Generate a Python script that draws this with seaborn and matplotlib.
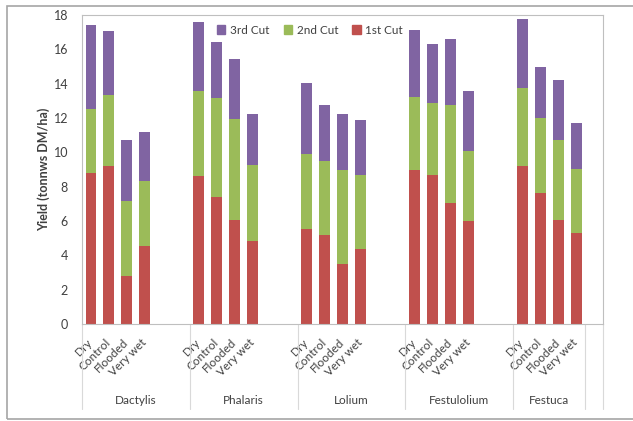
import pandas as pd
import matplotlib.pyplot as plt
import seaborn as sns
from matplotlib.patches import Rectangle
from matplotlib.lines import Line2D

# Data (t DM/ha per cut)
species = ["Dactylis", "Phalaris", "Lolium", "Festulolium", "Festuca"]
treatments = ["Dry", "Control", "Flooded", "Very wet"]
cut1 = [8.8, 9.2, 2.8, 4.55,
        8.6, 7.4, 6.05, 4.85,
        5.55, 5.2, 3.5, 4.35,
        9.0, 8.7, 7.05, 6.0,
        9.2, 7.65, 6.05, 5.3]
cut2 = [3.75, 4.15, 4.35, 3.8,
        5.0, 5.75, 5.9, 4.4,
        4.35, 4.3, 5.45, 4.35,
        4.25, 4.15, 5.7, 4.1,
        4.55, 4.35, 4.65, 3.75]
cut3 = [4.85, 3.7, 3.55, 2.85,
        4.0, 3.25, 3.5, 3.0,
        4.15, 3.25, 3.3, 3.2,
        3.85, 3.45, 3.85, 3.45,
        4.0, 3.0, 3.5, 2.65]

colors = {"3rd Cut": "#8064A2", "2nd Cut": "#9BBB59", "1st Cut": "#C0504D"}
text_color = "#404040"

sns.set_theme(style="white")
plt.rcParams['font.family'] = ['Lato', 'DejaVu Sans']

# Excel-like category layout: 4 bars per species, 2 empty slots between groups
order = []
keys = []
for i, sp in enumerate(species):
    for t in treatments:
        order.append(f"{sp}|{t}")
        keys.append(f"{sp}|{t}")
    if i < len(species) - 1:
        order += [f"gap{i}a", f"gap{i}b"]
    else:
        order += ["gap_end"]

df = pd.DataFrame({"key": keys, "c1": cut1, "c2": cut2, "c3": cut3})
df["top2"] = df["c1"] + df["c2"]
df["top3"] = df["top2"] + df["c3"]

fig = plt.figure(figsize=(6.33, 4.21), dpi=100)
ax = fig.add_axes([82 / 633, 1 - 324 / 421, 521 / 633, 309 / 421])

# stacked bars drawn as layered cumulative totals
bw = 0.61
sns.barplot(data=df, x="key", y="top3", order=order, color=colors["3rd Cut"],
            width=bw, errorbar=None, linewidth=0, saturation=1, ax=ax)
sns.barplot(data=df, x="key", y="top2", order=order, color=colors["2nd Cut"],
            width=bw, errorbar=None, linewidth=0, saturation=1, ax=ax)
sns.barplot(data=df, x="key", y="c1", order=order, color=colors["1st Cut"],
            width=bw, errorbar=None, linewidth=0, saturation=1, ax=ax)

ax.set_xlim(-0.5, len(order) - 0.5)
ax.set_ylim(0, 18)
ax.set_yticks(range(0, 19, 2))
ax.tick_params(axis="y", length=3, color="#BFBFBF", labelsize=9, labelcolor=text_color, pad=7)

# tick labels for treatments
pos = [order.index(k) for k in keys]
ax.set_xticks(pos)
ax.set_xticklabels([k.split("|")[1] for k in keys], rotation=45, ha="right",
                   va="center", rotation_mode="anchor", fontsize=8.5, color=text_color)
ax.tick_params(axis="x", length=0, pad=12)
ax.set_xlabel("")
ax.set_ylabel("Yield (tonnws DM/ha)", fontsize=9, fontweight="bold", color=text_color)
ax.yaxis.set_label_coords(-0.062, 0.5)

for s in ax.spines.values():
    s.set_color("#BFBFBF")
    s.set_linewidth(0.8)

# group dividers and species labels under the axis
bounds = [-0.5, 5.5, 11.5, 17.5, 23.5, 27.5, 28.5]
trans = ax.get_xaxis_transform()
for b in bounds:
    ax.add_line(Line2D([b, b], [0, -0.275], transform=trans, color="#D9D9D9",
                       linewidth=0.8, clip_on=False))
for i, sp in enumerate(species):
    mid = (bounds[i] + bounds[i + 1]) / 2
    ax.text(mid, -0.246, sp, transform=trans, ha="center", va="center",
            fontsize=8.5, color=text_color)

# legend
handles = [plt.Rectangle((0, 0), 1, 1, color=colors[k]) for k in colors]
ax.legend(handles, list(colors), loc="center", bbox_to_anchor=(0.4376, 0.951),
          ncol=3, frameon=False, fontsize=8.5, handlelength=0.7, handleheight=0.7,
          handletextpad=0.4, columnspacing=1.2, labelcolor=text_color)

# outer chart border
fig.add_artist(Rectangle((7 / 633, 2 / 421), 1.0, 413 / 421, transform=fig.transFigure,
                         fill=False, edgecolor="#A6A6A6", linewidth=1.2))

fig.savefig("out.png", dpi=100)
